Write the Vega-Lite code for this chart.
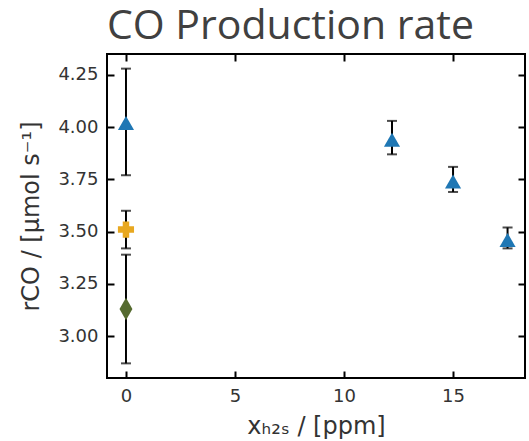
{
  "$schema": "https://vega.github.io/schema/vega-lite/v6.json",
  "width": 418,
  "height": 324,
  "autosize": {"type": "none"},
  "padding": {"left": 107, "top": 54, "right": 4, "bottom": 63},
  "background": "white",
  "title": {
    "text": "CO Production rate",
    "anchor": "start",
    "frame": "group",
    "font": "Open Sans",
    "fontSize": 41,
    "fontWeight": "normal",
    "color": "#404040",
    "offset": 5
  },
  "config": {
    "view": {"stroke": "black", "strokeWidth": 2},
    "axis": {
      "grid": false,
      "domain": false,
      "ticks": true,
      "tickColor": "#000000",
      "tickOpacity": 1,
      "tickWidth": 2,
      "tickSize": 7,
      "offset": -7,
      "labelFont": "DejaVu Sans",
      "labelFontSize": 18,
      "labelColor": "#333333",
      "titleFont": "DejaVu Sans",
      "titleFontSize": 24,
      "titleFontWeight": "normal",
      "titleColor": "#333333"
    }
  },
  "data": {
    "values": [
      {"series": "A", "x": 0, "y": 4.02, "lo": 3.77, "hi": 4.28},
      {"series": "A", "x": 12.2, "y": 3.94, "lo": 3.87, "hi": 4.03},
      {"series": "A", "x": 15, "y": 3.74, "lo": 3.69, "hi": 3.81},
      {"series": "A", "x": 17.5, "y": 3.46, "lo": 3.42, "hi": 3.52},
      {"series": "B", "x": 0, "y": 3.51, "lo": 3.42, "hi": 3.60},
      {"series": "C", "x": 0, "y": 3.13, "lo": 2.87, "hi": 3.39}
    ]
  },
  "layer": [
    {
      "mark": {"type": "rule", "color": "black", "strokeWidth": 2},
      "encoding": {
        "x": {"field": "x", "type": "quantitative", "scale": {"domain": [-0.87, 18.3], "nice": false, "zero": false},
              "axis": {"orient": "bottom", "values": [0, 5, 10, 15], "ticks": true, "title": "xₕ₂ₛ / [ppm]", "labelPadding": 9, "titlePadding": 9}},
        "y": {"field": "lo", "type": "quantitative", "scale": {"domain": [2.8, 4.35], "nice": false, "zero": false},
              "axis": {"orient": "left", "values": [3.0, 3.25, 3.5, 3.75, 4.0, 4.25], "ticks": true, "format": ".2f", "title": "rCO / [μmol s⁻¹]", "labelPadding": 9, "titlePadding": 14}},
        "y2": {"field": "hi"}
      }
    },
    {
      "mark": {"type": "tick", "color": "black", "orient": "horizontal", "size": 10, "thickness": 2},
      "encoding": {
        "x": {"field": "x", "type": "quantitative",
              "axis": {"orient": "top", "values": [0, 5, 10, 15], "ticks": true, "labels": false, "title": null}},
        "y": {"field": "lo", "type": "quantitative",
              "axis": {"orient": "right", "values": [3.0, 3.25, 3.5, 3.75, 4.0, 4.25], "ticks": true, "labels": false, "title": null}}
      }
    },
    {
      "mark": {"type": "tick", "color": "black", "orient": "horizontal", "size": 10, "thickness": 2},
      "encoding": {
        "x": {"field": "x", "type": "quantitative", "axis": null},
        "y": {"field": "hi", "type": "quantitative", "axis": null}
      }
    },
    {
      "mark": {"type": "point", "filled": true, "opacity": 1, "size": 260},
      "encoding": {
        "x": {"field": "x", "type": "quantitative", "axis": null},
        "y": {"field": "y", "type": "quantitative", "axis": null},
        "shape": {"field": "series", "type": "nominal", "legend": null,
                  "scale": {"domain": ["A", "B", "C"], "range": ["triangle-up", "cross", "M0,-1.4L0.8,0L0,1.4L-0.8,0Z"]}},
        "color": {"field": "series", "type": "nominal", "legend": null,
                  "scale": {"domain": ["A", "B", "C"], "range": ["#1f77b4", "#e8a820", "#556b2f"]}}
      }
    }
  ],
  "resolve": {"axis": {"x": "independent", "y": "independent"}}
}
